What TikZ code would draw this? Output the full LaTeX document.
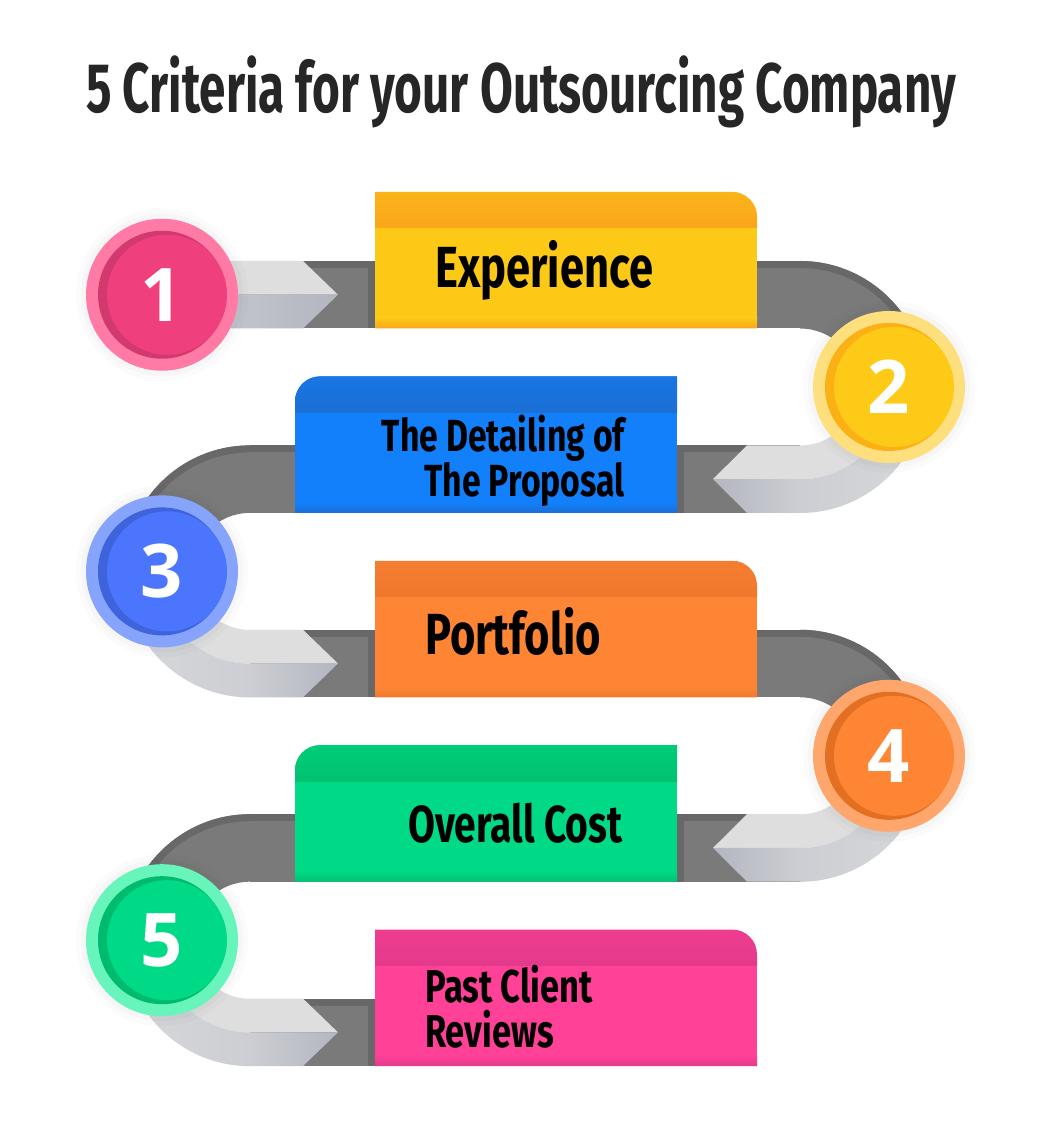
\documentclass[tikz,border=0pt]{standalone}
\usepackage{fontspec}
\setmainfont{Fira Sans}
\newfontfamily\condfont{Fira Sans}[FakeStretch=0.68]
\newfontfamily\boxfont{Fira Sans}[FakeStretch=0.75]
\newfontfamily\numfont{Open Sans}
\definecolor{titlegray}{HTML}{262626}
\definecolor{bandgray}{HTML}{7A7A7A}
\definecolor{bandedge}{HTML}{686868}
\definecolor{bandlight}{HTML}{DEDEDE}
\definecolor{shadeA}{HTML}{B3B6C0}
\definecolor{shadeB}{HTML}{CDCED3}
\definecolor{shadeC}{HTML}{D7D8DB}
% circles
\definecolor{ringPink}{HTML}{FF7BA6}\definecolor{darkPink}{HTML}{D23A6F}\definecolor{mainPink}{HTML}{EF3F7D}
\definecolor{ringYel}{HTML}{FDE07D}\definecolor{darkYel}{HTML}{FBB016}\definecolor{mainYel}{HTML}{FDCB17}
\definecolor{ringBlue}{HTML}{87A4FC}\definecolor{darkBlue}{HTML}{3E63DC}\definecolor{mainBlue}{HTML}{4B75FC}
\definecolor{ringOra}{HTML}{FFA66C}\definecolor{darkOra}{HTML}{E26F22}\definecolor{mainOra}{HTML}{FE8533}
\definecolor{ringGrn}{HTML}{68F5BC}\definecolor{darkGrn}{HTML}{00BA6E}\definecolor{mainGrn}{HTML}{00D985}
% boxes
\definecolor{boxYel}{HTML}{FDC917}\definecolor{headYel}{HTML}{FAA51A}
\definecolor{boxBlue}{HTML}{127FFB}\definecolor{headBlue}{HTML}{1B6FD4}
\definecolor{boxOra}{HTML}{FE8533}\definecolor{headOra}{HTML}{EF782E}
\definecolor{boxGrn}{HTML}{00D985}\definecolor{headGrn}{HTML}{00C26F}
\definecolor{boxPink}{HTML}{FF4198}\definecolor{headPink}{HTML}{E43A8B}

\tikzset{
  boxtext/.style={text=black, inner sep=0pt},
  numtext/.style={text=white, inner sep=0pt, font=\numfont\bfseries\fontsize{74}{74}\selectfont},
}

\begin{document}
\begin{tikzpicture}[x=1pt, y=1pt]
  \useasboundingbox (0,0) rectangle (1042,1133);
  \fill[white] (0,0) rectangle (1042,1133);

  \node[anchor=base, inner sep=0pt, text=titlegray, font=\condfont\bfseries\fontsize{70}{70}\selectfont] (title) at (521,1020) {5 Criteria for your Outsourcing Company};

  % straight parts of the band
  \foreach \k/\xa/\xb in {0/162/800, 1/250/800, 2/250/800, 3/250/800, 4/250/757} {
    \pgfmathsetmacro\T{872-184.4*\k}
    \fill[bandgray] (\xa,\T-67.5) rectangle (\xb,\T);
    \fill[bandedge] (\xa,\T-7) rectangle (\xb,\T);
  }

  % turns of the band
  \foreach \k/\cx/\s/\lc/\rc in {0/800/1/shadeB/shadeC, 1/250/-1/shadeC/shadeB, 2/800/1/shadeB/shadeC, 3/250/-1/shadeC/shadeB} {
    \pgfmathsetmacro\Y{872-184.4*\k-126}
    \fill[bandgray] (\cx,\Y+126) arc[start angle=90, end angle=90-90*\s, radius=126]
      -- ++(-\s*67.5,0) arc[start angle=90-90*\s, end angle=90, radius=58.5] -- cycle;
    \fill[bandedge] (\cx,\Y+126) arc[start angle=90, end angle=90-90*\s, radius=126]
      -- ++(-\s*7,0) arc[start angle=90-90*\s, end angle=90, radius=119] -- cycle;
    \fill[bandlight] (\cx,\Y-58.5) arc[start angle=-90, end angle=-90+90*\s, radius=58.5]
      -- ++(\s*33.75,0) arc[start angle=-90+90*\s, end angle=-90, radius=92.25] -- cycle;
    \shade[left color=\lc, right color=\rc] (\cx,\Y-92.25) arc[start angle=-90, end angle=-90+90*\s, radius=92.25]
      -- ++(\s*33.75,0) arc[start angle=-90+90*\s, end angle=-90, radius=126] -- cycle;
  }

  % light arrow heads
  \foreach \k/\xa in {0/162, 2/250, 4/250} {
    \pgfmathsetmacro\T{872-184.4*\k}
    \fill[bandlight] (\xa,\T) -- (303,\T) -- (338,\T-33.75) -- (\xa,\T-33.75) -- cycle;
    \shade[left color=shadeB, right color=shadeA] (\xa,\T-33.75) -- (338,\T-33.75) -- (303,\T-67.5) -- (\xa,\T-67.5) -- cycle;
    \fill[bandedge] (368,\T-67.5) rectangle (375,\T);
  }
  \foreach \k in {1,3} {
    \pgfmathsetmacro\T{872-184.4*\k}
    \fill[bandlight] (800,\T) -- (747,\T) -- (713,\T-33.75) -- (800,\T-33.75) -- cycle;
    \shade[left color=shadeA, right color=shadeB] (800,\T-33.75) -- (713,\T-33.75) -- (747,\T-67.5) -- (800,\T-67.5) -- cycle;
    \fill[bandedge] (677,\T-67.5) rectangle (684,\T);
  }

  % boxes, round corner on the right
  \foreach \k/\main/\head in {0/boxYel/headYel, 2/boxOra/headOra, 4/boxPink/headPink} {
    \pgfmathsetmacro\T{872-184.4*\k}
    \begin{scope}
      \clip (375,\T-67.5) -- (375,\T+69) -- (732,\T+69) arc[start angle=90, end angle=0, radius=25] -- (757,\T-67.5) -- cycle;
      \fill[\main] (375,\T-67.5) rectangle (757,\T+69);
      \shade[top color=\head!60!\main, bottom color=\head] (375,\T+33) rectangle (757,\T+69);
      \shade[top color=\main, bottom color=\head] (375,\T-67.5) rectangle (757,\T-57);
    \end{scope}
  }
  % boxes, round corner on the left
  \foreach \k/\main/\head in {1/boxBlue/headBlue, 3/boxGrn/headGrn} {
    \pgfmathsetmacro\T{872-184.4*\k}
    \begin{scope}
      \clip (677,\T-67.5) -- (677,\T+69) -- (320,\T+69) arc[start angle=90, end angle=180, radius=25] -- (295,\T-67.5) -- cycle;
      \fill[\main] (295,\T-67.5) rectangle (677,\T+69);
      \shade[top color=\head!60!\main, bottom color=\head] (295,\T+33) rectangle (677,\T+69);
      \shade[top color=\main, bottom color=\head] (295,\T-67.5) rectangle (677,\T-57);
    \end{scope}
  }

  % texts (base of a two-line node is its last line)
  \node[boxtext, anchor=base west, font=\boxfont\bfseries\fontsize{58}{58}\selectfont] (t1) at (435,845) {Experience};
  \node[boxtext, anchor=base east, align=right, font=\boxfont\bfseries\fontsize{45}{44}\selectfont] (t2) at (625,636) {The Detailing of\\The Proposal};
  \node[boxtext, anchor=base west, font=\boxfont\bfseries\fontsize{58}{58}\selectfont] (t3) at (425,478) {Portfolio};
  \node[boxtext, anchor=base west, font=\boxfont\bfseries\fontsize{52}{52}\selectfont] (t4) at (408,290) {Overall Cost};
  \node[boxtext, anchor=base west, align=left, font=\boxfont\bfseries\fontsize{46}{45}\selectfont] (t5) at (425,85) {Past Client\\Reviews};

  % numbered circles
  \foreach \n/\cx/\cy/\ring/\dark/\main in {1/162/838.25/ringPink/darkPink/mainPink, 2/889/746/ringYel/darkYel/mainYel,
      3/162/561.6/ringBlue/darkBlue/mainBlue, 4/889/377.2/ringOra/darkOra/mainOra, 5/162/192.8/ringGrn/darkGrn/mainGrn} {
    \fill[black, opacity=0.015] (\cx,\cy) circle (86);
    \fill[black, opacity=0.02] (\cx,\cy) circle (81);
    \fill[\ring] (\cx,\cy) circle (76);
    \fill[\dark] (\cx,\cy) circle (64);
    \fill[\main] (\cx+5,\cy) circle (60);
    \node[numtext] (n\n) at (\cx,\cy) {\n};
  }
\end{tikzpicture}
\end{document}
